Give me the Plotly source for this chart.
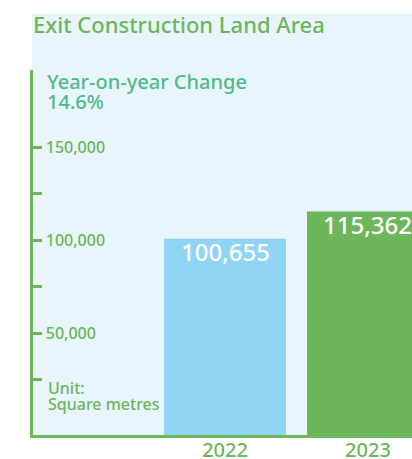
import plotly.graph_objects as go

# ---- data ----
years = ["2022", "2023"]
areas = [100655, 115362]
bar_colors = ["#8FD4F4", "#6DB65A"]
ytick_vals = [25000, 50000, 75000, 100000, 125000, 150000]
ytick_text = ["", "50,000", "", "100,000", "", "150,000"]
title_text = "Exit Construction Land Area"
yoy_label = "Year-on-year Change"
yoy_value = "14.6%"
unit_lines = ["Unit:", "Square metres"]

GREEN = "#6DB65A"
TEAL = "#50BA88"
BG = "#E8F5FD"
FONT = "Noto Sans"
W = 500

y_min, y_max = -4840, 191400
x_pos = list(range(len(years)))

fig = go.Figure()
fig.add_trace(go.Bar(
    x=x_pos, y=[v - y_min for v in areas], base=y_min,
    width=0.853,
    marker=dict(color=bar_colors, line=dict(width=0)),
    cliponaxis=True, hoverinfo="skip",
))

value_labels = [
    dict(text=f"{v:,}", x=xp, y=v, xref="x", yref="y", xanchor="center", yanchor="middle",
         yshift=-13, showarrow=False, font=dict(family=FONT, size=24, color="white", weight=W))
    for xp, v in zip(x_pos, areas)
]

fig.update_layout(
    width=412, height=459,
    margin=dict(l=33, r=0, t=70, b=24),
    paper_bgcolor="white", plot_bgcolor=BG,
    showlegend=False,
    font=dict(family=FONT, color=GREEN),
    title=dict(text=title_text, x=33/412, xanchor="left", y=1-25/459, yanchor="middle",
               font=dict(family=FONT, size=22, color=GREEN, weight=W)),
    xaxis=dict(range=[-1.343, 1.308], tickvals=x_pos, ticktext=years, automargin=False,
               showgrid=False, zeroline=False, showline=True, linecolor=GREEN, linewidth=3,
               ticks="", ticklabelstandoff=-5,
               tickfont=dict(family=FONT, size=20, color=GREEN, weight=W)),
    yaxis=dict(range=[y_min, y_max], tickvals=ytick_vals, ticktext=ytick_text, automargin=False,
               showgrid=False, zeroline=False, showline=True, linecolor=GREEN, linewidth=3,
               ticks="inside", ticklen=9, tickwidth=3, tickcolor=GREEN,
               ticklabelposition="inside", ticklabelstandoff=4,
               tickfont=dict(family=FONT, size=16, color=GREEN, weight=W)),
    shapes=[dict(type="rect", xref="paper", yref="paper", x0=-0.003, x1=1, y0=0, y1=(435-14)/365,
                 fillcolor=BG, line=dict(width=0), layer="below")],
    annotations=value_labels + [
        dict(text=yoy_label, xref="paper", yref="paper", x=15/379, y=(435-81)/365, xshift=-3,
             xanchor="left", yanchor="middle", showarrow=False,
             font=dict(family=FONT, size=20, color=TEAL, weight=W)),
        dict(text=yoy_value, xref="paper", yref="paper", x=15/379, y=(435-101)/365, xshift=-3,
             xanchor="left", yanchor="middle", showarrow=False,
             font=dict(family=FONT, size=20, color=TEAL, weight=W)),
        dict(text=unit_lines[0], xref="paper", yref="paper", x=15/379, y=(435-388)/365, xshift=-2,
             xanchor="left", yanchor="middle", showarrow=False,
             font=dict(family=FONT, size=16, color=GREEN, weight=W)),
        dict(text=unit_lines[1], xref="paper", yref="paper", x=15/379, y=(435-404)/365, xshift=-2,
             xanchor="left", yanchor="middle", showarrow=False,
             font=dict(family=FONT, size=16, color=GREEN, weight=W)),
    ],
)

fig.write_html("out.html", config=dict(displayModeBar=False),
               post_script="document.body.style.margin='0';document.body.style.overflow='hidden';")
